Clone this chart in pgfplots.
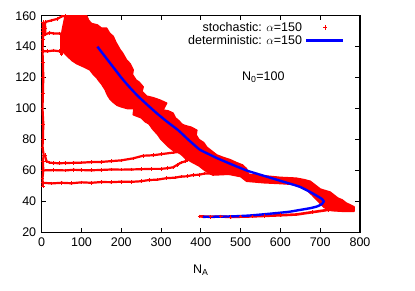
\documentclass[border=0pt]{standalone}
\usepackage{pgfplots}
\pgfplotsset{compat=1.18}
\usepackage{fontspec}
\setmainfont{Liberation Sans}
\begin{document}
\begin{tikzpicture}[x=1bp,y=1bp]
\begin{axis}[
  at={(0,0)}, anchor=south west,
  width=318.3bp, height=216.6bp, scale only axis,
  xmin=0, xmax=800, ymin=20, ymax=160,
  xtick={0,100,...,800}, ytick={20,40,...,160},
  tick align=inside, major tick length=4.5bp,
  axis line style={line width=1.1bp}, tick style={line width=0.8bp, black},
  every tick label/.append style={font=\fontsize{12.5bp}{14bp}\selectfont},
  xticklabel style={yshift=-2bp},
  yticklabel style={xshift=-2bp},
  /pgf/number format/assume math mode=true,
  xlabel={N\textsubscript{A}},
  xlabel style={font=\fontsize{12.5bp}{14bp}\selectfont, yshift=-11bp},
  legend plot pos=right,
  legend cell align=right,
  legend style={at={(rel axis cs:0.955,0.985)}, anchor=north east, draw=none, fill=none,
    font=\fontsize{12.5bp}{14bp}\selectfont, inner sep=1bp, row sep=-1.5bp,
    /tikz/every odd column/.append style={column sep=1bp}},
  clip=true,
]
\addlegendimage{red, legend image code/.code={\path[draw=none] (0,0) -- (37bp,0); \draw[red, line width=0.6bp] (16.8bp,0) -- (21.2bp,0) (19bp,-2.2bp) -- (19bp,2.2bp);}}
\addlegendentry{stochastic: \(\alpha\)=150}
\addlegendimage{blue, legend image code/.code={\draw[blue, line width=2.4bp] (0,0) -- (37bp,0);}}
\addlegendentry{deterministic: \(\alpha\)=150}
\pgfplotsset{strand/.style={red, line width=2.2bp, mark=+, mark size=1.8bp, mark options={line width=0.7bp}, forget plot}}
% stochastic: strands
\addplot[strand]
coordinates {(3,52) (25,51.6) (50,52) (75,51.7) (100,52.3) (125,52) (150,52.5) (175,52.4) (200,52.7) (225,52.6) (250,53) (270,53.8) (290,54) (314,55) (335,55.3) (350,56) (365,56.2) (380,57) (395,57.2) (410,58) (425,58) (440,58.5)};
\addplot[strand]
coordinates {(3,60) (30,60.2) (60,60) (80,60.4) (100,60.2) (125,60.1) (150,60.3) (175,60.6) (200,60.5) (225,60.6) (250,60.8) (275,61) (300,61) (315,61.4) (330,62) (340,63.5) (350,65) (362,66) (375,68)};
\addplot[strand]
coordinates {(8,70) (12,66) (20,65) (30,64.8) (45,64.6) (60,64.8) (80,64.9) (100,65) (125,65.4) (150,65.5) (175,66) (200,66.5) (230,67.8) (255,69.5) (280,69.8) (300,70.5) (330,71.5) (345,72) (360,73)};
\addplot[strand]
coordinates {(3,50) (2,55) (4,60) (3,66) (5,70) (2,75) (3,80) (4,90) (2,100) (3,110) (4,120) (3,130) (2,137) (3,145) (4,150) (3,156)};
\addplot[strand]
coordinates {(4,152) (10,156) (25,157) (40,158) (50,159.5) (60,160)};
\addplot[strand]
coordinates {(3,147) (10,148) (20,149) (30,148.5) (45,148.5) (55,148)};
\addplot[strand]
coordinates {(3,137) (15,137) (30,137.5) (45,137) (52,138)};
\addplot[strand]
coordinates {(9,148) (9,152) (8,156)};
\addplot[strand]
coordinates {(50,135) (50,141) (50,148)};
% bottom strand
\addplot[strand, line width=2.6bp]
coordinates {(397,30.3) (425,30) (450,30.2) (475,29.9) (500,30.1) (530,30.3) (560,30.6) (600,31) (640,31.5) (680,33) (720,34.5) (760,34.5) (780,35)};
% dense band
\addplot[red, fill=red, line width=1.5bp, line join=round, forget plot]
coordinates {(113,160) (118,157) (125,155) (140,154) (150,152) (163,152) (170,149) (180,146.5) (186,143) (197,138) (203,136) (213,131.5) (222,129) (230,125) (228,122) (237,118.5) (245,117) (255,114) (252,111) (264,108) (280,107) (297,105.5) (314,103.5) (305,99) (318,98.5) (330,97) (336,94) (345,92) (352,90) (360,89) (375,88) (390,86) (388,83) (395,80) (407,78) (415,75) (425,73) (440,70) (455,68.5) (473,67) (490,65) (505,63.5) (515,61) (520,57.5) (560,56.5) (600,55.5) (640,55) (660,54) (675,53) (690,50) (700,48) (712,47) (725,46) (735,44) (745,42) (755,41) (765,39) (785,36.5)
 (785,33.5) (760,33.5) (730,34) (710,36) (695,40) (680,44) (660,49) (630,51) (600,51.5) (560,52) (515,53) (500,56) (470,57.5) (430,57) (410,60) (395,63) (380,65) (360,68) (350,70.5) (340,72) (330,73) (320,75) (308,78) (300,80) (292,83) (285,85) (278,87) (270,90) (260,91.5) (250,94) (230,96) (232,100) (215,100) (201,101) (190,102) (180,104) (172,106) (167,108) (163,110) (160,112) (155,114) (150,116) (145,117.5) (138,120) (130,122) (121,125) (105,127) (88,129) (76,131) (66,133.5) (56,136) (51,140) (53,145) (51,150) (55,155) (59,160)} -- cycle;
% deterministic
\addplot[blue, line width=2.4bp, smooth, tension=0.3, forget plot]
coordinates {(140,140) (155,135) (170,130) (185,125) (200,120) (220,114) (242,108) (265,102.5) (289,97) (315,91.5) (343,86) (370,79.5) (397,73.5) (420,70.5) (440,68) (460,65.8) (481,63.5) (500,61.5) (520,59.5) (565,56) (610,52.5) (648,49.5) (675,46) (694,43.2) (704,41.6) (709,40) (704,38.2) (692,36.7) (675,35.6) (648,34.4) (620,33.2) (565,31.8) (520,30.8) (480,30.3) (440,30.1) (405,30)};
\node[font=\fontsize{12.5bp}{14bp}\selectfont] at (axis cs:557,120) {N\textsubscript{0}=100};
\end{axis}
\path (-41.7bp,-58.7bp) rectangle (373.3bp,232.3bp);
\end{tikzpicture}
\end{document}
